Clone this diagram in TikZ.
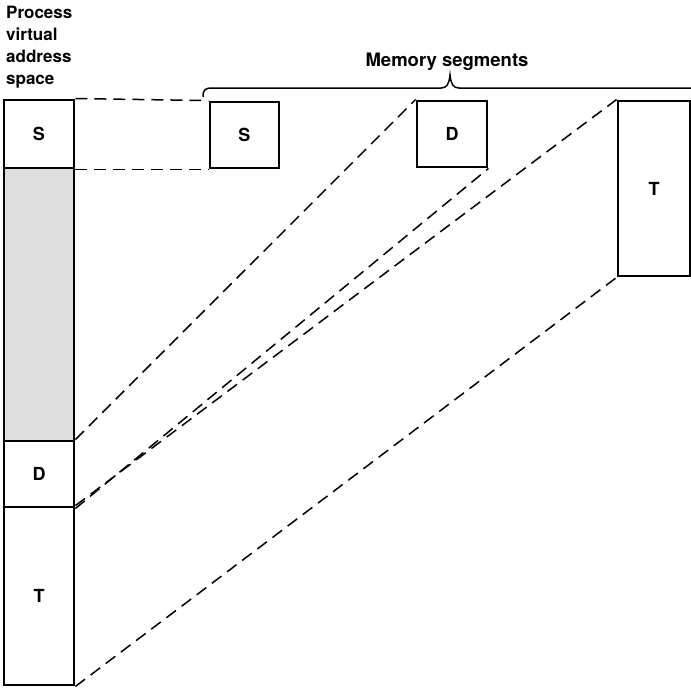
\documentclass[tikz,border=0pt]{standalone}
\usepackage{fontspec}
\setmainfont{TeX Gyre Heros}
\begin{document}
\begin{tikzpicture}[x=1pt,y=-1pt,
  seg/.style={draw=black,line width=2.9pt,minimum width=#1,inner sep=0pt,font=\fontsize{18}{20}\selectfont\bfseries},
  map/.style={draw=black,line width=1.5pt,dash pattern=on 12pt off 7pt},
  lbl/.style={inner sep=0pt,font=\fontsize{17}{22}\selectfont\bfseries}]
\useasboundingbox (0,0) rectangle (691,688);
% process virtual address space
\node[seg=70pt,minimum height=68pt] (ls) at (39,134) {S};
\node[seg=70pt,minimum height=273pt,fill=black!13] (lg) at (39,304.5) {};
\node[seg=70pt,minimum height=66pt] (ld) at (39,474) {D};
\node[seg=70pt,minimum height=178pt] (lt) at (39,596) {T};
% memory segments
\node[seg=69pt,minimum height=66pt] (ms) at (244.5,135) {S};
\node[seg=70pt,minimum height=66pt] (md) at (452,134) {D};
\node[seg=72pt,minimum height=175pt] (mt) at (654,188.5) {T};
% labels
\node[lbl,anchor=north west,align=left] (title) at (6,6) {Process\\virtual\\address\\space};
\node[lbl,font=\fontsize{18.5}{22}\selectfont\bfseries] (memlbl) at (447,62) {Memory segments};
% brace
\coordinate (bl) at (203,97);
\coordinate (btip) at (450,75);
\coordinate (br) at (691,88);
\draw[line width=1.5pt] (bl) .. controls (203,90) and (205,88) .. (212,88) -- (441,88)
  .. controls (447,88) and (449,84) .. (btip) .. controls (451,84) and (453,88) .. (459,88) -- (br);
% mappings
\draw[map] (ls.north east) -- (ms.north west);
\draw[map] (ls.south east) -- (ms.south west);
\draw[map] (ld.north east) -- (md.north west);
\draw[map] (ld.south east) -- (md.south east);
\draw[map] (lt.north east) -- (mt.north west);
\draw[map] (lt.south east) -- (mt.south west);
\end{tikzpicture}
\end{document}
